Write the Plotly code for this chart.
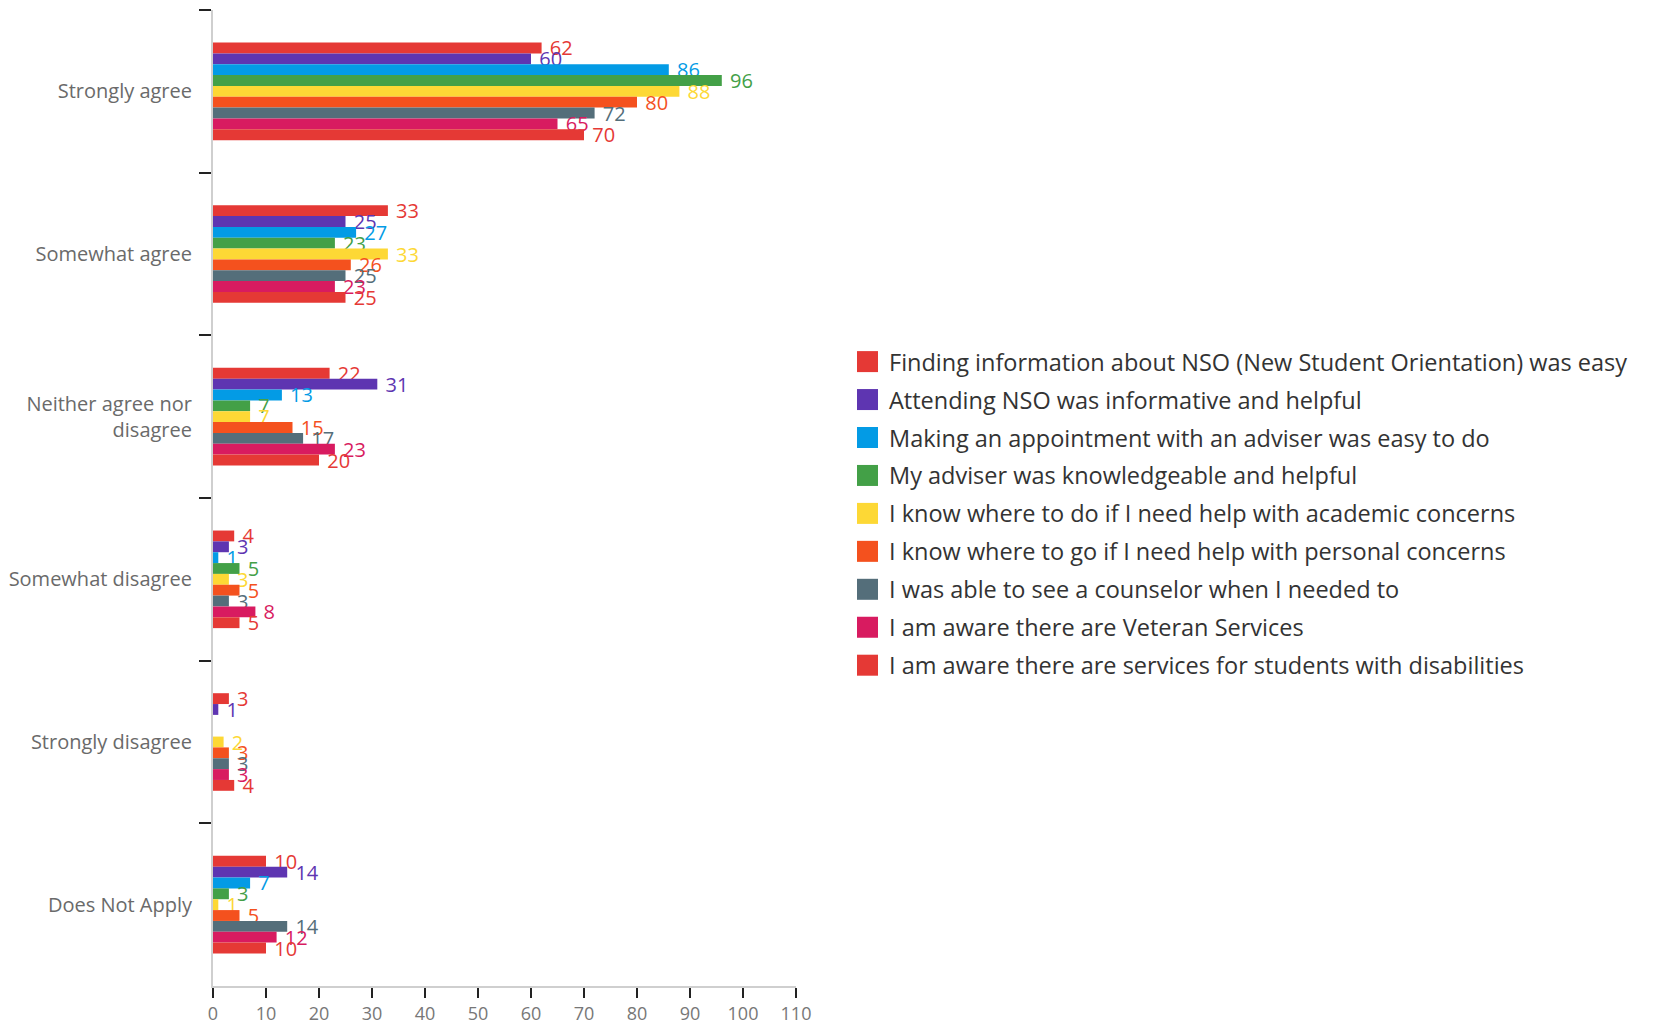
import plotly.graph_objects as go

# Survey response categories (top to bottom)
categories = [
    "Strongly agree",
    "Somewhat agree",
    "Neither agree nor<br>disagree",
    "Somewhat disagree",
    "Strongly disagree",
    "Does Not Apply",
]

series_names = [
    "Finding information about NSO (New Student Orientation) was easy",
    "Attending NSO was informative and helpful",
    "Making an appointment with an adviser was easy to do",
    "My adviser was knowledgeable and helpful",
    "I know where to do if I need help with academic concerns",
    "I know where to go if I need help with personal concerns",
    "I was able to see a counselor when I needed to",
    "I am aware there are Veteran Services",
    "I am aware there are services for students with disabilities",
]

# Response counts per statement, in category order
finding_info = [62, 33, 22, 4, 3, 10]
attending_nso = [60, 25, 31, 3, 1, 14]
appointment_easy = [86, 27, 13, 1, None, 7]
adviser_helpful = [96, 23, 7, 5, None, 3]
academic_help = [88, 33, 7, 3, 2, 1]
personal_help = [80, 26, 15, 5, 3, 5]
counselor_seen = [72, 25, 17, 3, 3, 14]
veteran_services = [65, 23, 23, 8, 3, 12]
disability_services = [70, 25, 20, 5, 4, 10]

series_values = [
    finding_info, attending_nso, appointment_easy, adviser_helpful,
    academic_help, personal_help, counselor_seen, veteran_services,
    disability_services,
]

colors = ["#E53935", "#5E35B1", "#039BE5", "#43A047", "#FDD835",
          "#F4511E", "#546E7A", "#D81B60", "#E53935"]

x_ticks = list(range(0, 111, 10))

FONT = "Open Sans"
W, H = 1653, 1025
M = dict(l=213, r=857, t=10, b=39)
plot_w = W - M["l"] - M["r"]
plot_h = H - M["t"] - M["b"]


def paper_x(px):
    return (px - M["l"]) / plot_w


def paper_y(py):
    return (H - M["b"] - py) / plot_h


fig = go.Figure()
for name, vals, col in zip(series_names, series_values, colors):
    fig.add_trace(go.Bar(
        y=categories, x=vals, name=name, orientation="h",
        marker=dict(color=col, line=dict(width=0)),
        text=vals, texttemplate=" %{x}", textposition="outside",
        textfont=dict(color=col, size=20, family=FONT),
        constraintext="none", cliponaxis=False, showlegend=False,
    ))

# Legend: colour swatch and label per statement
row0, step, sw = 361.6, 37.95, 21
shapes, annotations = [], []
for i, (name, col) in enumerate(zip(series_names, colors)):
    cy = row0 + i * step
    shapes.append(dict(
        type="rect", xref="paper", yref="paper",
        x0=paper_x(857), x1=paper_x(857 + sw),
        y0=paper_y(cy - sw / 2), y1=paper_y(cy + sw / 2),
        fillcolor=col, line=dict(width=0),
    ))
    annotations.append(dict(
        xref="paper", yref="paper", x=paper_x(887), y=paper_y(cy),
        xanchor="left", yanchor="middle", showarrow=False, text=name,
        font=dict(size=23.5, color="#333333", family=FONT),
    ))

fig.update_layout(
    width=W, height=H, margin=M,
    paper_bgcolor="white", plot_bgcolor="white",
    barmode="group", bargap=0.4, bargroupgap=0,
    showlegend=False,
    shapes=shapes, annotations=annotations,
    font=dict(family=FONT),
)
fig.update_yaxes(
    type="category", autorange="reversed", automargin=False,
    showline=True, linecolor="#cfcfcf", linewidth=2,
    ticks="outside", tickson="boundaries", ticklen=12, tickwidth=2,
    tickcolor="#222222", ticklabelstandoff=15,
    tickfont=dict(size=20, color="#6a6a6a"), showgrid=False,
)
fig.update_xaxes(
    range=[0, 110], tickvals=x_ticks, automargin=False,
    showline=True, linecolor="#cfcfcf", linewidth=2,
    ticks="outside", ticklen=10, tickwidth=2, tickcolor="#222222",
    tickfont=dict(size=18, color="#777777"),
    showgrid=False, zeroline=False,
)

fig.write_html("out.html")
